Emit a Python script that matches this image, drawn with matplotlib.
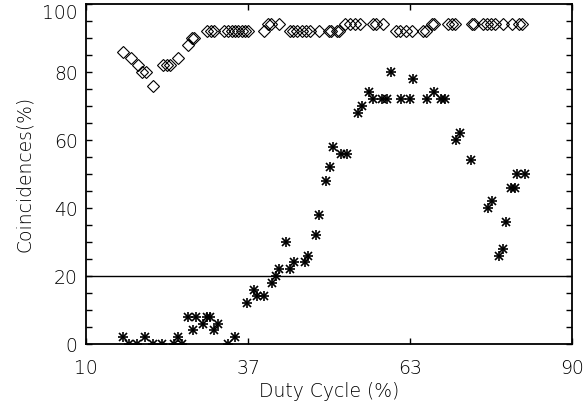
import matplotlib
matplotlib.use("Agg")
import matplotlib.pyplot as plt
import numpy as np

# Upper series (diamonds)
dia_x = [16.1, 17.4, 18.6, 19.3, 19.9, 21.0, 22.7, 23.4, 23.9, 25.1, 26.8, 27.5, 27.8,
         29.9, 30.6, 31.1, 32.7, 33.4, 34.0, 34.5, 35.1, 35.6, 36.2, 36.7,
         39.3, 39.9, 40.5, 41.8, 43.5, 44.1, 44.8, 45.5, 46.2, 46.9, 48.4, 50.0,
         50.4, 51.3, 51.7, 52.6, 53.5, 54.3, 55.1, 57.2, 57.7, 58.9,
         61.0, 61.7, 62.7, 63.6, 65.5, 66.0, 66.9, 67.3, 69.6, 70.2, 70.7,
         73.5, 73.9, 75.4, 76.0, 76.6, 77.3, 78.6, 80.1, 81.2, 81.7]
dia_y = [86, 84, 82, 80, 80, 76, 82, 82, 82, 84, 88, 90, 90,
         92, 92, 92, 92, 92, 92, 92, 92, 92, 92, 92,
         92, 94, 94, 94, 92, 92, 92, 92, 92, 92, 92, 92,
         92, 92, 92, 94, 94, 94, 94, 94, 94, 94,
         92, 92, 92, 92, 92, 92, 94, 94, 94, 94, 94,
         94, 94, 94, 94, 94, 94, 94, 94, 94, 94]

# Lower series (asterisks)
ast_x = [16.1, 17.1, 18.4, 19.7, 21.1, 22.5, 24.5, 25.1, 25.8, 26.8, 27.6, 28.1,
         29.3, 29.9, 30.4, 31.1, 31.7, 33.4, 34.6, 36.5, 37.6, 38.1, 39.3, 40.6,
         41.2, 41.8, 43.0, 43.6, 44.2, 46.0, 46.6, 47.8, 48.4, 49.5, 50.1, 50.7,
         51.9, 53.0, 54.8, 55.4, 56.6, 57.2, 58.8, 59.5, 60.2, 61.9, 63.3, 63.8,
         66.1, 67.3, 68.5, 69.1, 70.9, 71.6, 73.3, 76.2, 76.9, 78.0, 78.7, 79.2,
         79.9, 80.6, 81.0, 82.3]
ast_y = [2, 0, 0, 2, 0, 0, 0, 2, 0, 8, 4, 8,
         6, 8, 8, 4, 6, 0, 2, 12, 16, 14, 14, 18,
         20, 22, 30, 22, 24, 24, 26, 32, 38, 48, 52, 58,
         56, 56, 68, 70, 74, 72, 72, 72, 80, 72, 72, 78,
         72, 74, 72, 72, 60, 62, 54, 40, 42, 26, 28, 36,
         46, 46, 50, 50]

threshold = 20
x_ticks = [10, 10 + 80 / 3, 10 + 160 / 3, 90]
x_tick_labels = ["10", "37", "63", "90"]
y_ticks = [0, 20, 40, 60, 80, 100]

plt.rcParams['font.family'] = ['DejaVu Sans']
fig = plt.figure(figsize=(5.85, 4.09), dpi=100)
ax = fig.add_axes([86 / 585, 65 / 409, 486 / 585, 340 / 409])

ax.plot(dia_x, dia_y, linestyle='none', marker='D', markersize=5.7,
        markerfacecolor='none', markeredgecolor='black', markeredgewidth=0.8)
ax.plot(ast_x, ast_y, linestyle='none', marker='+', markersize=7.5,
        color='black', markeredgewidth=1.2)
ax.plot(ast_x, ast_y, linestyle='none', marker='x', markersize=6,
        color='black', markeredgewidth=1.2)
ax.axhline(threshold, color='black', linewidth=1.0)

ax.set_xlim(10, 90)
ax.set_ylim(0, 100)
ax.set_xticks(x_ticks)
ax.set_xticklabels(x_tick_labels)
ax.set_yticks(y_ticks)
ax.set_yticks(np.arange(0, 101, 5), minor=True)

ax.tick_params(which='both', direction='in', top=True, right=True,
               length=4.5, width=1.0, labelsize=13.5, colors='black')
ax.tick_params(axis='y', which='major', pad=6)
ax.tick_params(axis='x', which='major', pad=11)
for lab in ax.get_xticklabels() + ax.get_yticklabels():
    lab.set_fontweight('light')
ax.yaxis.get_major_ticks()[-1].label1.set_va('top')

for s in ax.spines.values():
    s.set_linewidth(1.3)

ax.set_xlabel("Duty Cycle (%)", fontsize=13.5, fontweight='light', labelpad=3)
ax.set_ylabel("Coincidences(%)", fontsize=13.5, fontweight='light', labelpad=6)

fig.savefig("out.png", dpi=100)
